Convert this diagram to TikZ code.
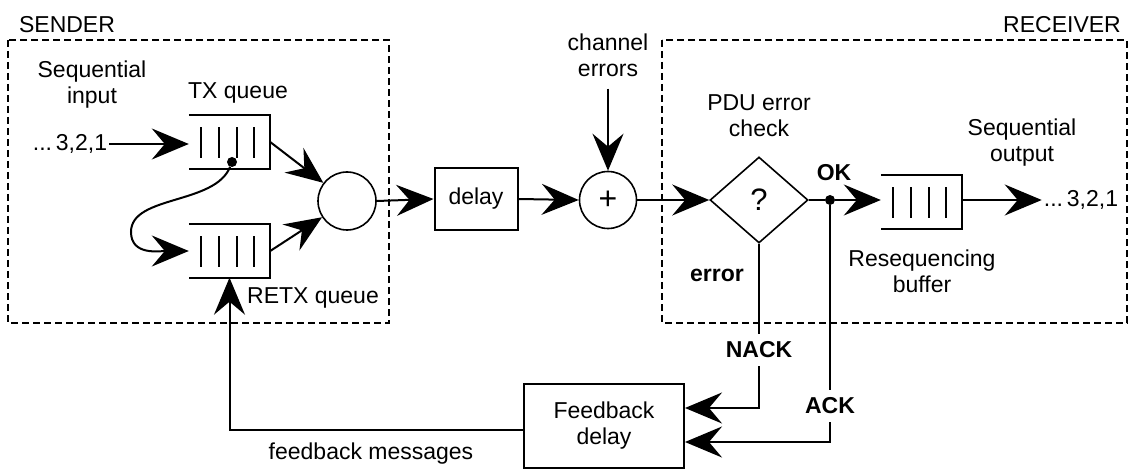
\documentclass[tikz,border=0pt]{standalone}
\usepackage{fontspec}
\setmainfont{Liberation Sans}
\usetikzlibrary{arrows.meta,shapes.geometric,calc}
\tikzset{
  txt/.style={font=\fontsize{23}{26}\selectfont, align=center, inner sep=2pt},
  bold/.style={txt, font=\fontsize{23}{26}\selectfont\bfseries},
  gap/.style={bold, minimum height=32pt},
  edge/.style={line width=2pt},
  arr/.style={edge, -{Stealth[length=37pt,width=31pt,inset=13pt]}},
  dashbox/.style={line width=1.5pt, dash pattern=on 7pt off 4pt},
  queue/.style={minimum width=81pt, minimum height=53pt, inner sep=0pt},
  blockbox/.style={txt, draw, line width=2pt, inner sep=0pt},
  ring/.style={txt, circle, draw, line width=1.6pt, inner sep=0pt},
  joint/.style={circle, fill, minimum size=10pt, inner sep=0pt},
}
% open-ended queue: top, right and bottom sides plus four slots
\newcommand\qlines[1]{%
  \draw[edge] (#1.north west) -- (#1.north east) -- (#1.south east) -- (#1.south west);
  \foreach \dx in {12,30,48,65}
    \draw[edge] ([xshift=\dx pt, yshift=-12pt]#1.north west) -- ([xshift=\dx pt, yshift=11pt]#1.south west);
}
\begin{document}
\begin{tikzpicture}[x=1pt,y=-1pt]
\useasboundingbox (0,0) rectangle (1129,470);

% sender and receiver regions
\draw[dashbox] (8,40) rectangle (389,323);
\draw[dashbox] (662,40) rectangle (1127,323);
\node[txt] (sender) at (67,25) {SENDER};
\node[txt] (receiver) at (1062,25) {RECEIVER};

% sender side
\node[txt] (seqin) at (92,85) {Sequential\\input};
\node[txt] (in) at (70,144) {...\,3,2,1};
\node[queue] (tx) at (229.5,142) {};
\qlines{tx}
\node[txt] (txlbl) at (238,93) {TX queue};
\node[queue] (retx) at (229.5,251) {};
\qlines{retx}
\node[txt] (retxlbl) at (313,298) {RETX queue};
\node[joint] (dot) at (232,162) {};
\node[ring, minimum size=58pt] (mux) at (347,201) {};

% channel
\node[blockbox, minimum width=83pt, minimum height=62pt] (delay) at (476,199) {delay};
\node[ring, minimum size=57pt, font=\fontsize{32}{32}\selectfont] (sum) at (608,200) {+};
\node[txt] (chan) at (608,55) {channel\\errors};

% receiver side
\node[txt, diamond, draw, line width=1.6pt, inner sep=0pt, aspect=1.14,
      minimum width=98pt, minimum height=86pt, font=\fontsize{31}{31}\selectfont] (chk) at (759,200) {?};
\node[txt] (pdu) at (759,116) {PDU error\\check};
\node[joint] (ok) at (830,200) {};
\node[bold] (oklbl) at (834,173) {OK};
\node[queue] (buf) at (921.5,202) {};
\qlines{buf}
\node[txt] (seqout) at (1022,143) {Sequential\\output};
\node[txt] (resq) at (922,271) {Resequencing\\buffer};
\node[txt] (out) at (1081,200) {...\,3,2,1};
\node[bold] (err) at (717,275) {error};

% feedback path
\node[blockbox, minimum width=160pt, minimum height=84pt] (fb) at (604,426) {Feedback\\delay};
\node[txt] (fbm) at (371,454) {feedback messages};
\node[gap] (nack) at (759,350) {NACK};
\node[gap] (ack) at (830,406) {ACK};

% forward connectors
\draw[arr] (in.east) -- (in.east -| tx.west);
\draw[arr] (tx.east) -- (mux);
\draw[arr] (retx.east) -- (mux);
\draw[arr] (dot) .. controls (215,205) and (131,195) .. (131,232)
                 .. controls (131,256) and (160,251) .. (retx.west);
\draw[arr] (mux.east) -- (delay.west);
\draw[arr] (delay.east) -- (sum.west);
\draw[arr] (chan.south) ++(0,10) -- (sum.north);
\draw[arr] (sum.east) -- (chk.west);
\draw[edge] (chk.east) -- (ok);
\draw[arr] (ok) -- (buf.west |- ok);
\draw[arr] (buf.east |- ok) -- (out.west);

% return connectors
\draw[edge] (chk.south) -- (nack.north);
\draw[arr] (nack.south) |- ([yshift=18pt]fb.east);
\draw[edge] (ok) -- (ack.north);
\draw[arr] (ack.south) |- ([yshift=-16pt]fb.east);
\draw[arr] ([yshift=-4pt]fb.west) -| (retx.south);
\end{tikzpicture}
\end{document}
